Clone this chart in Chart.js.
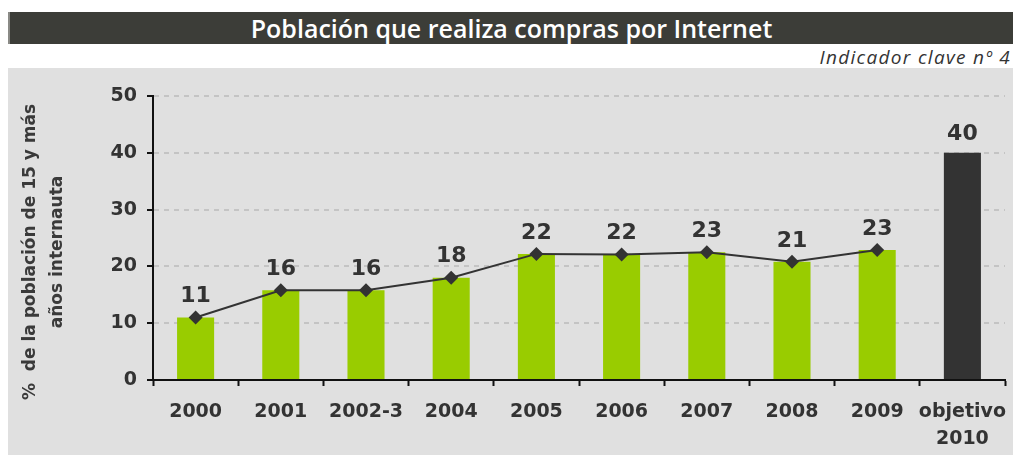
<!DOCTYPE html>
<html>
<head>
<meta charset="utf-8">
<script src="https://cdn.jsdelivr.net/npm/chart.js@4/dist/chart.umd.min.js"></script>
<style>
  html, body { margin:0; padding:0; background:#ffffff; width:1013px; height:455px; overflow:hidden; }
  #titlebar { position:absolute; left:8px; top:12px; width:1005px; height:32px; background:#3c3d38;
    border-left:2px solid #8a8a86; box-sizing:border-box;
    color:#ffffff; font-family:"Open Sans", sans-serif; font-weight:600; font-size:25px;
    line-height:32px; text-align:center; letter-spacing:0px; }
  #subtitle { position:absolute; right:2px; top:47px; font-family:"Open Sans", sans-serif; font-style:italic;
    font-size:19px; color:#333333; line-height:20px; letter-spacing:1.3px; }
  #panel { position:absolute; left:8px; top:68px; width:1005px; height:387px; background:#e0e0e0; }
  #panel canvas { position:absolute; left:0; top:0; }
</style>
</head>
<body>
<div id="titlebar">Población que realiza compras por Internet</div>
<div id="subtitle">Indicador clave nº 4</div>
<div id="panel"><canvas id="c" width="1005" height="387"></canvas></div>
<script>
const categories = ['2000', '2001', '2002-3', '2004', '2005', '2006', '2007', '2008', '2009', ['objetivo', '2010']];
const barValues  = [11, 15.8, 15.8, 18, 22.2, 22.1, 22.5, 20.8, 22.9, 40];
const lineValues = [11, 15.8, 15.8, 18, 22.2, 22.1, 22.5, 20.8, 22.9, null];
const valueLabels = ['11', '16', '16', '18', '22', '22', '23', '21', '23', '40'];
const yTicks = [0, 10, 20, 30, 40, 50];
const yTitle = ['%  de la población de 15 y más', 'años internauta'];

const barColors = barValues.map((v, i) => i === barValues.length - 1 ? '#333333' : '#99cc00');

const labelPlugin = {
  id: 'valueLabels',
  afterDatasetsDraw(chart) {
    const ctx = chart.ctx;
    const barMeta = chart.getDatasetMeta(0);
    const lineMeta = chart.getDatasetMeta(1);
    ctx.save();
    ctx.font = 'bold 22px "DejaVu Sans", sans-serif';
    ctx.fillStyle = '#333333';
    ctx.textAlign = 'center';
    ctx.textBaseline = 'bottom';
    valueLabels.forEach((txt, i) => {
      let x, y;
      if (lineValues[i] !== null) {
        const p = lineMeta.data[i];
        x = p.x; y = p.y - 10;
      } else {
        const b = barMeta.data[i];
        x = b.x; y = b.y - 8;
      }
      ctx.fillText(txt, x, y);
    });
    ctx.restore();
  }
};

const yTitlePlugin = {
  id: 'yTitle',
  afterDraw(chart) {
    const ctx = chart.ctx;
    const a = chart.chartArea;
    const cy = (a.top + a.bottom) / 2 + 14;
    ctx.save();
    ctx.font = 'bold 17px "DejaVu Sans", sans-serif';
    ctx.fillStyle = '#3a3a3a';
    ctx.textAlign = 'center';
    ctx.textBaseline = 'middle';
    const xs = [23, 50];
    yTitle.forEach((t, i) => {
      ctx.save();
      ctx.translate(xs[i], cy);
      ctx.rotate(-Math.PI / 2);
      ctx.fillText(t, 0, 0);
      ctx.restore();
    });
    ctx.restore();
  }
};

new Chart(document.getElementById('c'), {
  data: {
    labels: categories,
    datasets: [
      {
        type: 'bar',
        data: barValues,
        backgroundColor: barColors,
        borderWidth: 0,
        categoryPercentage: 1,
        barPercentage: 0.435,
        order: 2
      },
      {
        type: 'line',
        data: lineValues,
        borderColor: '#333333',
        borderWidth: 2,
        pointStyle: 'rectRot',
        pointRadius: 7,
        pointHoverRadius: 7,
        pointBackgroundColor: '#333333',
        pointBorderColor: '#333333',
        pointBorderWidth: 0,
        tension: 0,
        spanGaps: false,
        order: 1
      }
    ]
  },
  options: {
    responsive: false,
    animation: false,
    events: [],
    layout: { padding: { top: 28, right: 8, left: 0, bottom: 0 } },
    plugins: { legend: { display: false }, tooltip: { enabled: false }, title: { display: false } },
    scales: {
      x: {
        offset: true,
        afterFit(scale) { scale.height = 75; scale.paddingLeft = 0; scale.paddingRight = 0; },
        grid: { display: true, offset: true, drawOnChartArea: false, drawTicks: true,
                tickLength: 6, tickColor: '#111111', tickWidth: 2 },
        border: { display: true, color: '#111111', width: 2 },
        ticks: { color: '#333333', padding: 13, maxRotation: 0, autoSkip: false,
                 font: { family: '"DejaVu Sans", sans-serif', weight: 'bold', size: 19, lineHeight: 1.4 } }
      },
      y: {
        min: 0, max: 50,
        afterFit(scale) { scale.width = 145; scale.paddingTop = 0; scale.paddingBottom = 0; },
        afterBuildTicks(scale) { scale.ticks = yTicks.map(v => ({ value: v })); },
        grid: { color: (c) => c.tick && c.tick.value === 0 ? 'rgba(0,0,0,0)' : '#c4c4c4',
                lineWidth: 2, drawTicks: true, tickLength: 6, tickColor: '#111111', tickWidth: 2 },
        border: { display: true, color: '#111111', width: 2, dash: [5, 5] },
        ticks: { color: '#333333', padding: 10,
                 font: { family: '"DejaVu Sans", sans-serif', weight: 'bold', size: 19 } }
      }
    }
  },
  plugins: [labelPlugin, yTitlePlugin]
});
</script>
</body>
</html>
